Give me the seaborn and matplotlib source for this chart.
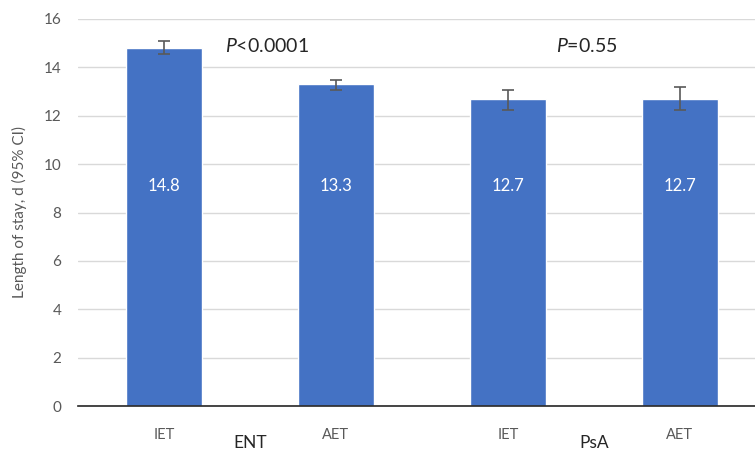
import matplotlib
matplotlib.use("Agg")
import matplotlib.pyplot as plt
import numpy as np
import pandas as pd
import seaborn as sns

groups = ["ENT", "ENT", "PsA", "PsA"]
treatments = ["IET", "AET", "IET", "AET"]
los = [14.8, 13.3, 12.7, 12.7]
ci_low = [14.55, 13.05, 12.25, 12.25]
ci_high = [15.08, 13.47, 13.05, 13.18]
p_labels = ["<0.0001", "=0.55"]

df = pd.DataFrame({"group": groups, "treatment": treatments, "los": los})
df["key"] = df["group"] + " " + df["treatment"]

sns.set_theme(style="white")
plt.rcParams["font.family"] = ["Lato", "DejaVu Sans"]
plt.rcParams["mathtext.fontset"] = "custom"
plt.rcParams["mathtext.it"] = "Lato:italic"

fig = plt.figure(figsize=(7.55, 4.54), dpi=100)
ax = fig.add_axes([78 / 755, 48 / 454, 688 / 755, 387 / 454])

bar_color = "#4472C4"
sns.barplot(data=df, x="key", y="los", color=bar_color, width=0.44,
            saturation=1, errorbar=None, ax=ax, zorder=2)

xs = np.arange(len(los))
yerr = [np.array(los) - np.array(ci_low), np.array(ci_high) - np.array(los)]
ax.errorbar(xs, los, yerr=yerr, fmt="none", ecolor="#595959",
            elinewidth=1.2, capsize=4, capthick=1.2, zorder=3)

for x, v in zip(xs, los):
    ax.text(x, 9.1, f"{v:.1f}", color="white", ha="center", va="center", fontsize=12)

ax.set_ylim(0, 16)
ax.set_yticks(range(0, 17, 2))
ax.set_xlim(-0.5, 3.5)
ax.yaxis.grid(True, color="#d9d9d9", linewidth=1, zorder=0)
ax.set_axisbelow(True)
for s in ["top", "right", "left"]:
    ax.spines[s].set_visible(False)
ax.spines["bottom"].set_color("#262626")
ax.spines["bottom"].set_linewidth(1.2)

ax.set_xticks(xs)
ax.set_xticklabels(treatments, color="#595959", fontsize=10.5)
ax.tick_params(axis="x", length=0, pad=16)
ax.tick_params(axis="y", length=0, labelsize=11, labelcolor="#595959", pad=12)
ax.set_xlabel("")
ax.set_ylabel("Length of stay, d (95% CI)", color="#595959", fontsize=11, labelpad=12)

for cx, g in [(0.5, "ENT"), (2.5, "PsA")]:
    ax.text(cx, -0.075, g, transform=ax.get_xaxis_transform(), ha="center",
            va="top", fontsize=12.5, color="#262626")

for cx, p in zip([0.6, 2.46], p_labels):
    ax.text(cx, 14.9, "$\\it{P}$" + p, ha="center", va="center", fontsize=14, color="#262626")

fig.savefig("out.png", dpi=100)
